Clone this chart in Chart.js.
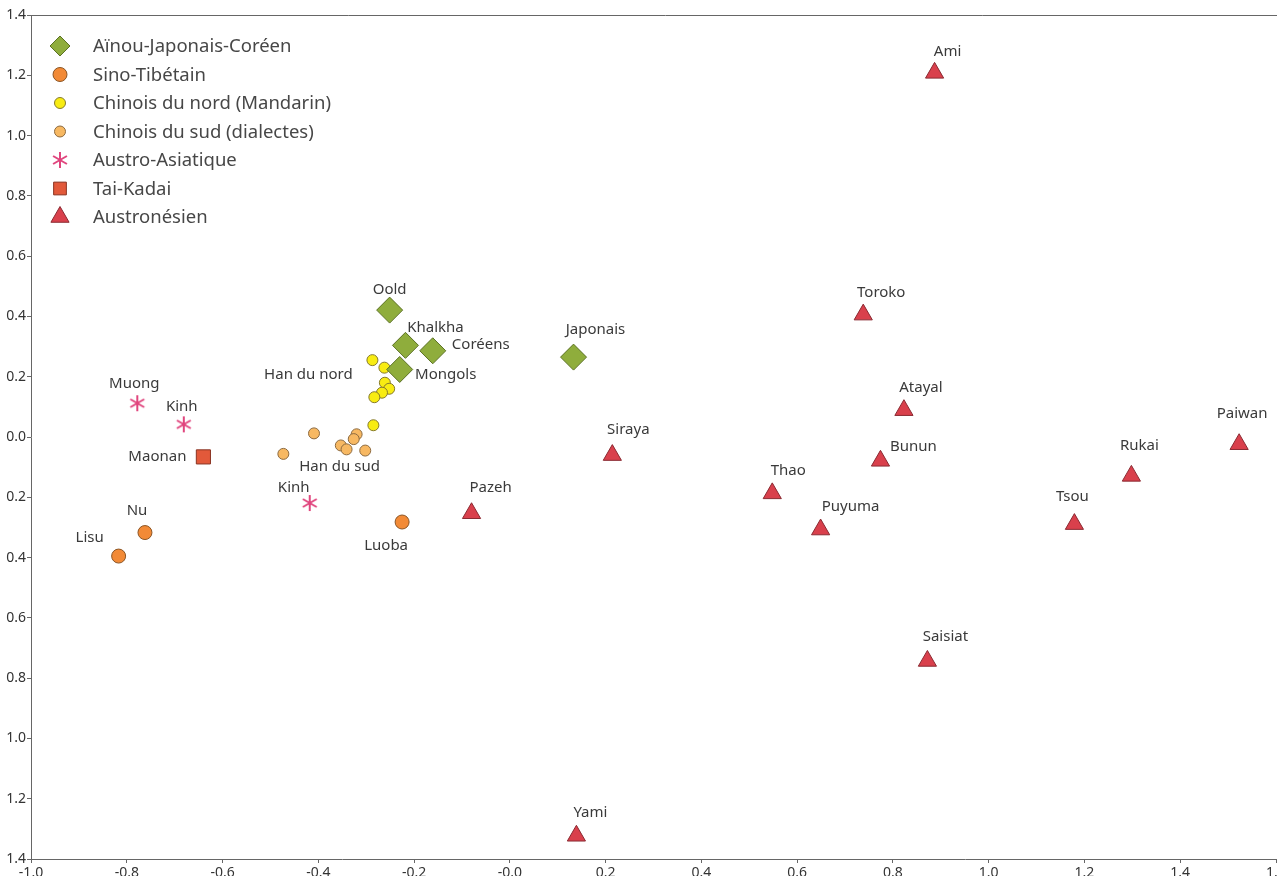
<!DOCTYPE html>
<html lang="fr">
<head>
<meta charset="utf-8">
<title>Langues d'Asie orientale</title>
<script src="https://cdn.jsdelivr.net/npm/chart.js@4/dist/chart.umd.min.js"></script>
<style>
  html, body { margin: 0; padding: 0; background: #fff; overflow: hidden; }
  #wrap { position: absolute; left: 0; top: 0; width: 1300px; height: 890px; }
</style>
</head>
<body>
<div id="wrap"><canvas id="grafica"></canvas></div>
<script>
// graduations des axes
const xTickLabels = ['-1.0', '-0.8', '-0.6', '-0.4', '-0.2', '-0.0', '0.2', '0.4', '0.6', '0.8', '1.0', '1.2', '1.4', '1.6'];
const yTickLabels = ['1.4', '1.2', '1.0', '0.8', '0.6', '0.4', '0.2', '0.0', '0.2', '0.4', '0.6', '0.8', '1.0', '1.2', '1.4'];

// Aïnou-Japonais-Coréen
const ajcNames = ['Oold', 'Khalkha', 'Coréens', 'Mongols', 'Japonais'];
const ajcX = [-0.251, -0.218, -0.161, -0.230, 0.133];
const ajcY = [0.421, 0.304, 0.286, 0.224, 0.265];

// Sino-Tibétain
const stNames = ['Lisu', 'Nu', 'Luoba'];
const stX = [-0.817, -0.762, -0.225];
const stY = [-0.395, -0.317, -0.282];

// Chinois du nord (Mandarin)
const nordNames = [null, 'Han du nord', null, null, null, null, null];
const nordX = [-0.287, -0.262, -0.261, -0.252, -0.267, -0.283, -0.285];
const nordY = [0.255, 0.230, 0.180, 0.160, 0.147, 0.132, 0.039];

// Chinois du sud (dialectes)
const sudNames = [null, null, null, null, null, 'Han du sud', null];
const sudX = [-0.409, -0.473, -0.320, -0.326, -0.353, -0.341, -0.302];
const sudY = [0.012, -0.056, 0.009, -0.007, -0.028, -0.041, -0.045];

// Austro-Asiatique
const aaNames = ['Muong', 'Kinh', 'Kinh'];
const aaX = [-0.778, -0.681, -0.418];
const aaY = [0.112, 0.042, -0.219];

// Tai-Kadai
const tkNames = ['Maonan'];
const tkX = [-0.640];
const tkY = [-0.066];

// Austronésien
const anNames = ['Ami', 'Toroko', 'Atayal', 'Bunun', 'Thao', 'Puyuma', 'Siraya', 'Pazeh', 'Yami', 'Saisiat', 'Tsou', 'Rukai', 'Paiwan'];
const anX = [0.887, 0.738, 0.823, 0.774, 0.548, 0.649, 0.214, -0.080, 0.139, 0.872, 1.179, 1.298, 1.523];
const anY = [1.208, 0.406, 0.089, -0.079, -0.187, -0.307, -0.060, -0.253, -1.323, -0.743, -0.289, -0.129, -0.024];

// décalage des étiquettes par rapport au point (en px)
const labelOffsets = {
  ajc: [[0, -20], [30, -18], [48, -6], [46, 5], [22, -27]],
  st: [[-29, -18], [-8, -22], [-16, 24]],
  nord: [null, [-76, 7], null, null, null, null, null],
  sud: [null, null, null, null, null, [-7, 17], null],
  aa: [[-3, -20], [-2, -18], [-16, -15]],
  tk: [[-46, 0]],
  an: [[13, -21], [18, -22], [17, -22], [33, -14], [16, -23], [30, -23], [16, -25], [19, -26], [14, -23], [18, -24], [-2, -27], [8, -30], [3, -30]]
};

const pts = (xs, ys) => xs.map((x, i) => ({ x: x, y: ys[i] }));

// astérisque à six branches
function makeAsterisk(r, color) {
  const c = document.createElement('canvas');
  const s = Math.ceil(r * 2 + 4);
  c.width = s; c.height = s;
  const g = c.getContext('2d');
  g.strokeStyle = color;
  g.lineWidth = 2;
  g.lineCap = 'butt';
  [90, 30, -30].forEach(a => {
    const rad = a * Math.PI / 180;
    g.beginPath();
    g.moveTo(s / 2 - Math.cos(rad) * r, s / 2 - Math.sin(rad) * r);
    g.lineTo(s / 2 + Math.cos(rad) * r, s / 2 + Math.sin(rad) * r);
    g.stroke();
  });
  return c;
}
const asterisk = makeAsterisk(8, '#e0467e');

const datasets = [
  { key: 'ajc', label: 'Aïnou-Japonais-Coréen', names: ajcNames, data: pts(ajcX, ajcY),
    pointStyle: 'rectRot', pointRadius: 13, backgroundColor: '#8fad3c', borderColor: '#5b7124', borderWidth: 1, legendRadius: 10 },
  { key: 'st', label: 'Sino-Tibétain', names: stNames, data: pts(stX, stY),
    pointStyle: 'circle', pointRadius: 7, backgroundColor: '#f28a36', borderColor: '#8a5424', borderWidth: 1, legendRadius: 7 },
  { key: 'nord', label: 'Chinois du nord (Mandarin)', names: nordNames, data: pts(nordX, nordY),
    pointStyle: 'circle', pointRadius: 5.5, backgroundColor: '#f8ec12', borderColor: '#857a2c', borderWidth: 1, legendRadius: 5.5 },
  { key: 'sud', label: 'Chinois du sud (dialectes)', names: sudNames, data: pts(sudX, sudY),
    pointStyle: 'circle', pointRadius: 5.5, backgroundColor: '#f7b862', borderColor: '#8c6a40', borderWidth: 1, legendRadius: 5.5 },
  { key: 'aa', label: 'Austro-Asiatique', names: aaNames, data: pts(aaX, aaY),
    pointStyle: asterisk, pointRadius: 8, backgroundColor: '#e0467e', borderColor: '#e0467e', borderWidth: 0, legendRadius: 8 },
  { key: 'tk', label: 'Tai-Kadai', names: tkNames, data: pts(tkX, tkY),
    pointStyle: 'rect', pointRadius: 10, backgroundColor: '#e2593a', borderColor: '#8a3422', borderWidth: 1, legendRadius: 9 },
  { key: 'an', label: 'Austronésien', names: anNames, data: pts(anX, anY),
    pointStyle: 'triangle', pointRadius: 10.5, backgroundColor: '#d9404c', borderColor: '#8a2a32', borderWidth: 1, legendRadius: 10.5 }
];
datasets.forEach(d => {
  d.pointBackgroundColor = d.backgroundColor;
  d.pointBorderColor = d.borderColor;
  d.pointBorderWidth = d.borderWidth;
  d.pointHoverRadius = d.pointRadius;
  d.showLine = false;
});

// étiquettes des points + cadre supérieur + légende
const annotations = {
  id: 'annotations',
  afterDatasetsDraw(chart) {
    const ctx = chart.ctx;
    const area = chart.chartArea;
    ctx.save();

    // trait du haut
    ctx.strokeStyle = '#666';
    ctx.lineWidth = 1;
    ctx.beginPath();
    ctx.moveTo(area.left, area.top + 0.5);
    ctx.lineTo(chart.width, area.top + 0.5);
    ctx.stroke();

    // noms des langues
    ctx.font = '15px "Noto Sans"';
    ctx.fillStyle = '#3a3a3a';
    ctx.textAlign = 'center';
    ctx.textBaseline = 'middle';
    chart.data.datasets.forEach((ds, di) => {
      const meta = chart.getDatasetMeta(di);
      ds.names.forEach((name, i) => {
        if (!name) return;
        const off = labelOffsets[ds.key][i];
        const p = meta.data[i];
        ctx.fillText(name, p.x + off[0], p.y + off[1]);
      });
    });

    // légende
    const lx = 60, tx = 93, ly0 = 46, step = 28.5;
    ctx.font = '18.5px "Noto Sans"';
    ctx.fillStyle = '#474747';
    ctx.textAlign = 'left';
    chart.data.datasets.forEach((ds, di) => {
      const y = ly0 + di * step;
      ctx.save();
      ctx.fillStyle = ds.backgroundColor;
      ctx.strokeStyle = ds.borderColor;
      ctx.lineWidth = ds.borderWidth;
      Chart.helpers.drawPoint(ctx, {
        pointStyle: ds.pointStyle, radius: ds.legendRadius, rotation: 0, borderWidth: ds.borderWidth
      }, lx, y);
      ctx.restore();
      ctx.fillText(ds.label, tx, y + 1);
    });
    ctx.restore();
  }
};

const canvas = document.getElementById('grafica');
new Chart(canvas, {
  type: 'scatter',
  data: { datasets: datasets },
  options: {
    responsive: true,
    maintainAspectRatio: false,
    animation: false,
    layout: { padding: { left: 0, right: 24, top: 15, bottom: 0 } },
    plugins: {
      legend: { display: false },
      tooltip: { enabled: false }
    },
    scales: {
      x: {
        type: 'linear',
        min: -1.0,
        max: 1.6,
        afterFit: s => { s.height = 31; },
        ticks: {
          stepSize: 0.2,
          autoSkip: false,
          maxRotation: 0,
          padding: 2,
          color: '#333',
          font: { family: 'Noto Sans', size: 14 },
          callback: v => xTickLabels[Math.round((v + 1.0) / 0.2)]
        },
        grid: { drawOnChartArea: false, drawTicks: true, tickLength: 4, color: '#666' },
        border: { color: '#666', width: 1 }
      },
      y: {
        type: 'linear',
        min: -1.4,
        max: 1.4,
        afterFit: s => { s.width = 31; },
        ticks: {
          stepSize: 0.2,
          autoSkip: false,
          padding: 1,
          color: '#333',
          font: { family: 'Noto Sans', size: 14 },
          callback: v => yTickLabels[Math.round((v + 1.4) / 0.2)]
        },
        grid: { drawOnChartArea: false, drawTicks: true, tickLength: 4, color: '#666' },
        border: { color: '#666', width: 1 }
      }
    }
  },
  plugins: [annotations]
});
</script>
</body>
</html>
